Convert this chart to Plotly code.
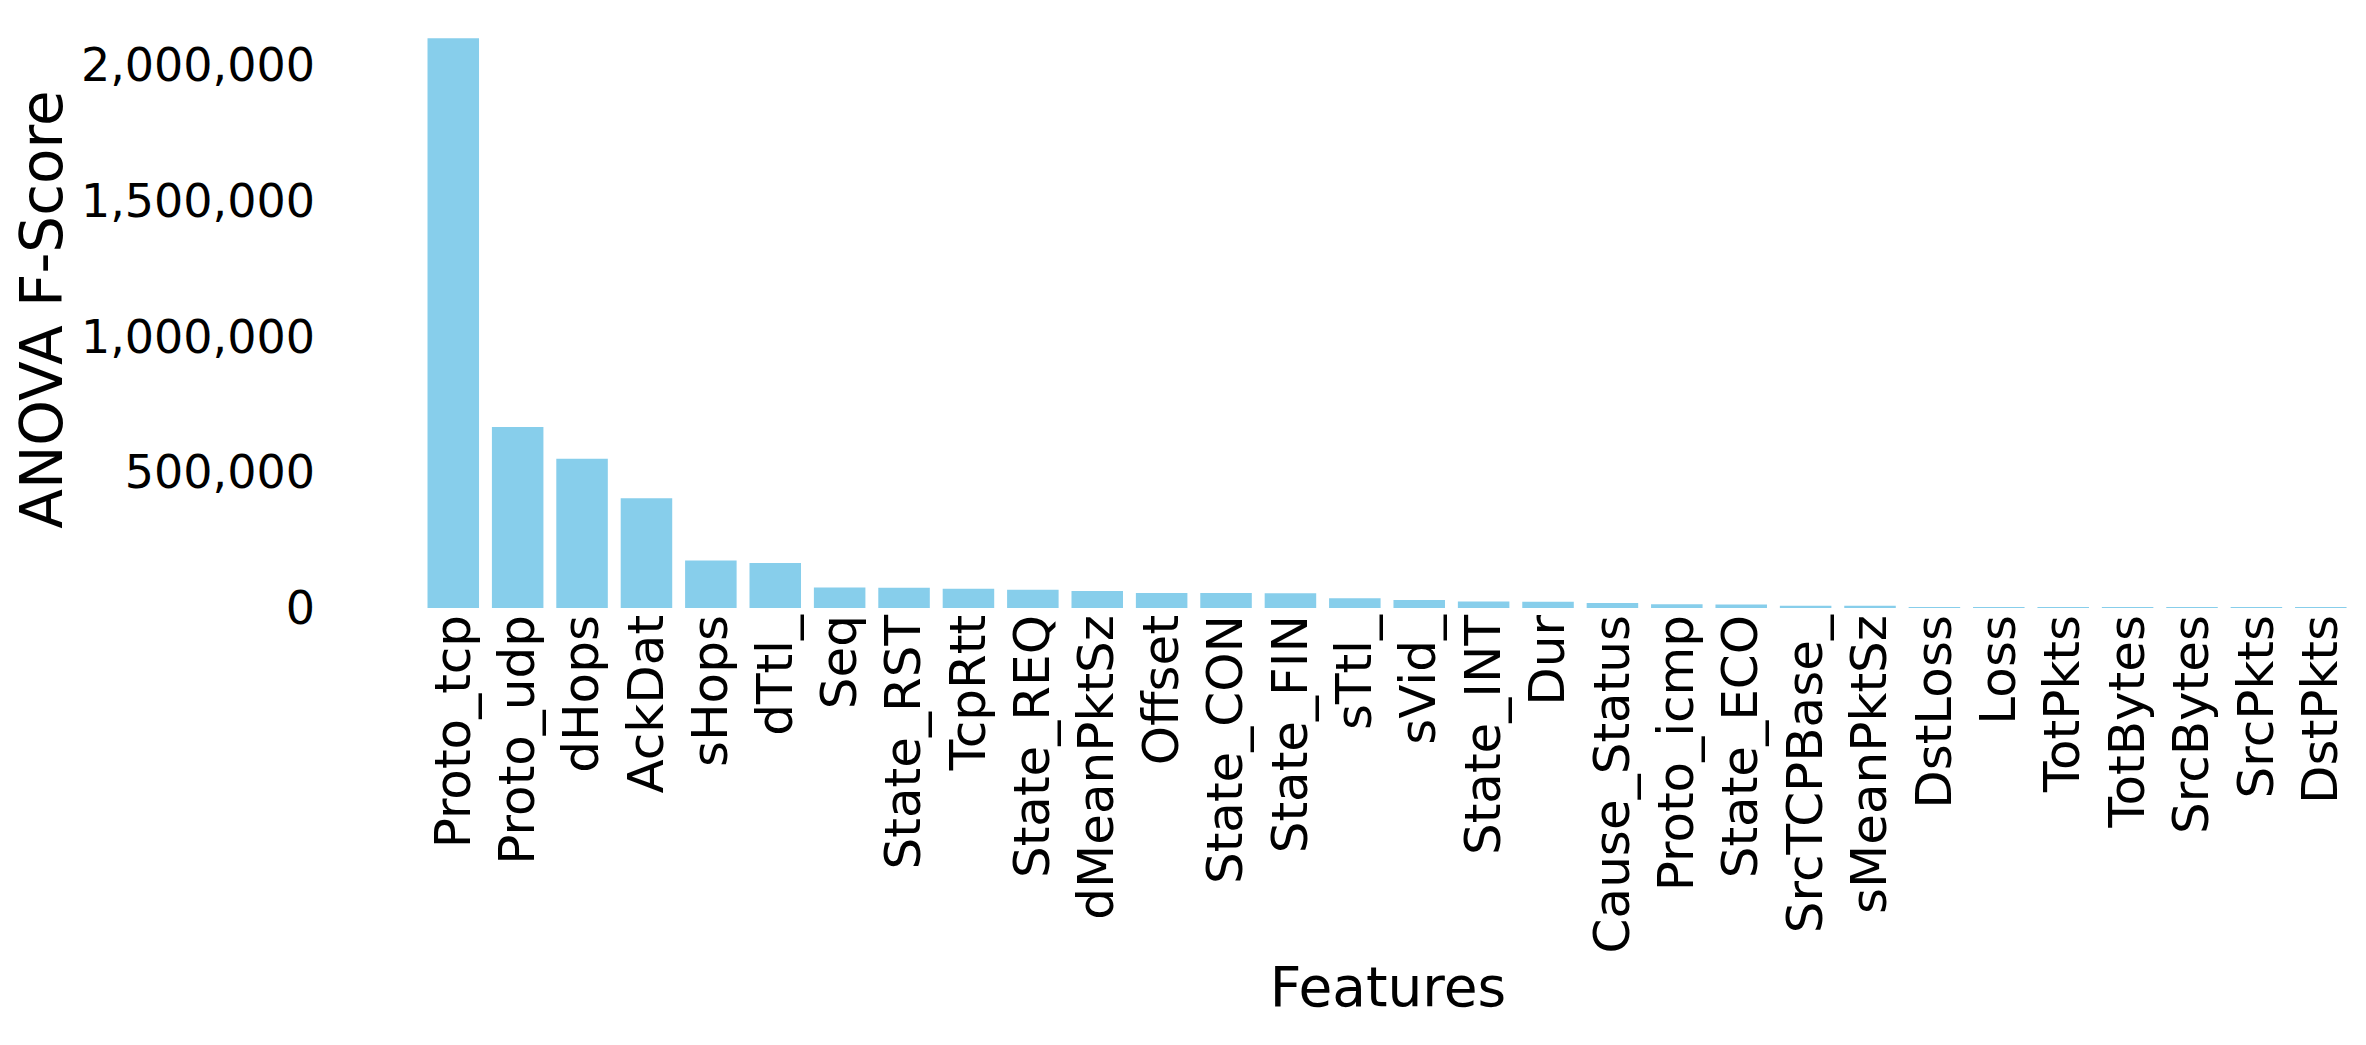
"""Gráfico de barras de puntuaciones ANOVA F por característica (Plotly)."""

import plotly.graph_objects as go

# Características ordenadas por puntuación
features = [
    'Proto_tcp', 'Proto_udp', 'dHops', 'AckDat', 'sHops', 'dTtl_', 'Seq',
    'State_RST', 'TcpRtt', 'State_REQ', 'dMeanPktSz', 'Offset', 'State_CON',
    'State_FIN', 'sTtl_', 'sVid_', 'State_INT', 'Dur', 'Cause_Status',
    'Proto_icmp', 'State_ECO', 'SrcTCPBase_', 'sMeanPktSz', 'DstLoss', 'Loss',
    'TotPkts', 'TotBytes', 'SrcBytes', 'SrcPkts', 'DstPkts',
]

# Puntuaciones ANOVA F
f_scores = [
    2100000, 667000, 550000, 404000, 175000, 166000, 76000,
    75000, 71000, 67500, 62500, 55500, 55000,
    54500, 35500, 29500, 23500, 23000, 18400,
    13500, 13000, 8600, 8400, 3600, 3400,
    3200, 3000, 2900, 2800, 2700,
]

y_tickvals = [0, 500000, 1000000, 1500000, 2000000]

FONT = 'DejaVu Sans'

fig = go.Figure()
fig.add_trace(go.Bar(
    x=features,
    y=f_scores,
    marker=dict(color='#87CEEB', line=dict(width=0)),
    hoverinfo='x+y',
))

fig.update_layout(
    width=2366,
    height=1045,
    margin=dict(l=415, r=21, t=3, b=445),
    plot_bgcolor='white',
    paper_bgcolor='white',
    bargap=0.2,
    showlegend=False,
    font=dict(family=FONT, color='black'),
    xaxis=dict(
        type='category',
        range=[-0.47, 29.5],
        tickangle=-90,
        tickfont=dict(size=50, family=FONT),
        showgrid=False,
        zeroline=False,
        showline=False,
        ticks='',
        ticklabelstandoff=-4,
        title=dict(text='Features', font=dict(size=55, family=FONT), standoff=15),
        automargin=False,
    ),
    yaxis=dict(
        range=[0, 2200000],
        tickvals=y_tickvals,
        tickformat=',d',
        tickfont=dict(size=46, family=FONT),
        showgrid=False,
        zeroline=False,
        showline=False,
        ticks='',
        ticklabelstandoff=107,
        title=dict(text='ANOVA F-Score', font=dict(size=58, family=FONT), standoff=0),
        automargin=False,
    ),
)

fig.write_html("out.html")
